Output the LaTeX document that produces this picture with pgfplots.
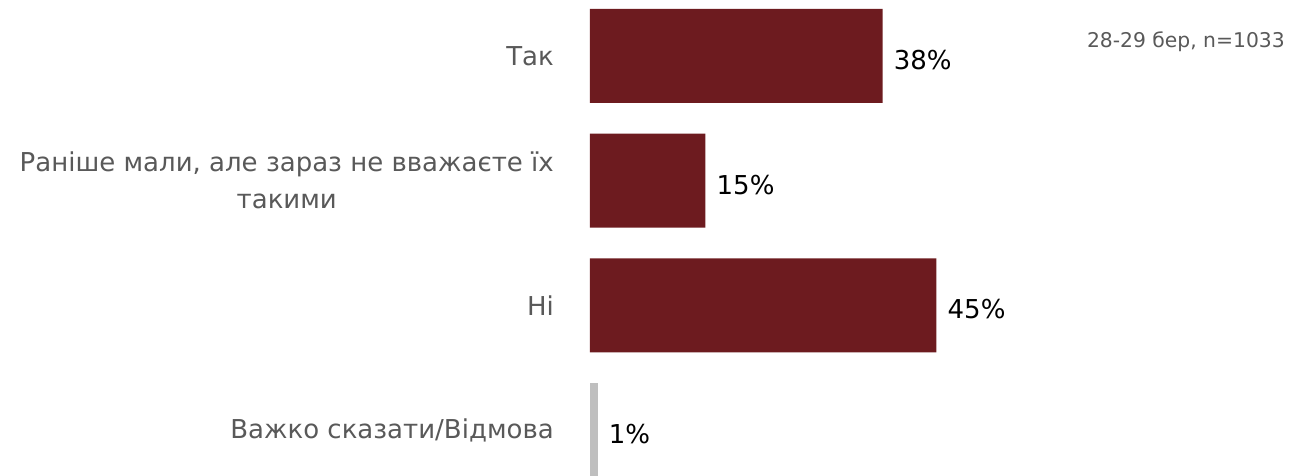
\documentclass[border=0pt]{standalone}
\usepackage{pgfplots}
\pgfplotsset{compat=1.18}
\usepackage{fontspec}
\setmainfont{DejaVu Sans}
\definecolor{barred}{HTML}{6D1B1F}
\definecolor{bargrey}{HTML}{BFBFBF}
\definecolor{labelgrey}{HTML}{595959}
\begin{document}
\begin{tikzpicture}
\begin{axis}[
  name=ax,
  scale only axis,
  width=708pt, height=475pt,
  xmin=0, xmax=91.95,
  ymin=-0.448, ymax=3.36,
  y dir=reverse,
  xbar, bar width=94pt, bar shift=0pt,
  axis x line=none,
  axis y line*=left,
  y axis line style={draw=none},
  major tick length=0pt,
  ytick={0,1,2,3},
  yticklabels={Так, {Раніше мали, але зараз не вважаєте їх\\такими}, Ні, Важко сказати/Відмова},
  yticklabel style={font=\fontsize{26}{37}\selectfont, text=labelgrey, align=center, inner sep=0pt, xshift=-36pt},
  /pgf/number format/assume math mode=true,
  nodes near coords={\pgfmathprintnumber{\pgfplotspointmeta}\%},
  nodes near coords style={font=\fontsize{26}{30}\selectfont, text=black, anchor=west, inner sep=0pt, xshift=11pt, yshift=-4pt},
]
\addplot[fill=barred, draw=none] coordinates {(38,0) (15,1) (45,2)};
\addplot[fill=bargrey, draw=none] coordinates {(1,3)};
\end{axis}
\node[anchor=east, inner sep=0pt, font=\fontsize{20.3}{22}\selectfont, text=labelgrey]
  at ([xshift=-13pt, yshift=-42pt]ax.north east) {28-29 бер, n=1033};
\pgfresetboundingbox
\useasboundingbox ([xshift=-590pt]ax.south west) rectangle (ax.north east);
\end{tikzpicture}
\end{document}
